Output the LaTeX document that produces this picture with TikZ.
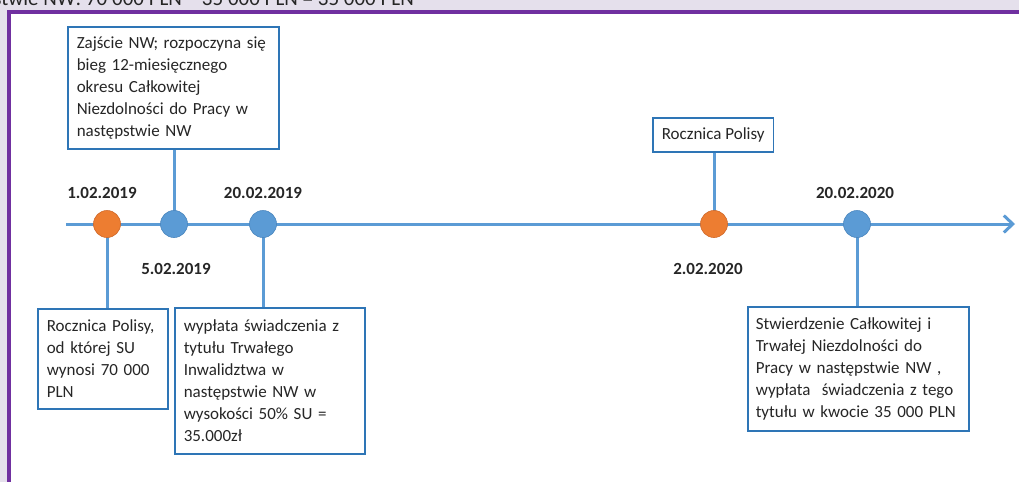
\documentclass[tikz,border=0pt]{standalone}
\usepackage{fontspec}
\setmainfont{Carlito}
\usetikzlibrary{arrows.meta}
\definecolor{bgl}{HTML}{E5E0EC}
\definecolor{framec}{HTML}{7030A0}
\definecolor{linec}{HTML}{5B9BD5}
\definecolor{boxc}{HTML}{2E75B6}
\definecolor{orangec}{HTML}{ED7D31}
\definecolor{orangeb}{HTML}{D0692A}
\definecolor{blueb}{HTML}{4A86BE}
\definecolor{txt}{HTML}{262626}
\tikzset{
  infobox/.style={draw=boxc, line width=1.5pt, fill=white, anchor=north west, align=left,
    inner xsep=9pt, inner ysep=4pt, text=txt, font=\fontsize{17}{22}\selectfont},
  conn/.style={draw=linec, line width=3pt},
  evo/.style={circle, minimum size=27pt, inner sep=0pt, fill=orangec, draw=orangeb, line width=0.6pt},
  evb/.style={circle, minimum size=27pt, inner sep=0pt, fill=linec, draw=blueb, line width=0.6pt},
  datelbl/.style={font=\bfseries\fontsize{17}{20}\selectfont, text=txt, anchor=base},
}
\begin{document}
\begin{tikzpicture}[x=1pt,y=-1pt]
\useasboundingbox (0,0) rectangle (1019,482);
\clip (0,0) rectangle (1019,482);
\fill[bgl] (0,0) rectangle (1019,482);
\fill[framec] (7,10) rectangle (1019,482);
\fill[white] (11,13.5) rectangle (1019,482);
\node[anchor=base east, inner sep=0pt, text=txt, font=\fontsize{21}{25}\selectfont] (title) at (414,5) {następstwie NW: 70 000 PLN – 35 000 PLN = 35 000 PLN};

% boxes
\node[infobox, text width=193pt, minimum height=122pt] (b1) at (67,26)
  {Zajście NW; rozpoczyna się\\bieg 12-miesięcznego\\okresu Całkowitej\\Niezdolności do Pracy w\\następstwie NW};
\node[infobox, text width=112pt, minimum height=100pt] (b2) at (37,308)
  {Rocznica Polisy,\\od której SU\\wynosi 70 000\\PLN};
\node[infobox, text width=172pt, minimum height=146pt] (b3) at (174,307)
  {wypłata świadczenia z\\tytułu Trwałego\\Inwalidztwa w\\następstwie NW w\\wysokości 50\% SU =\\35.000zł};
\node[infobox, inner xsep=9pt, minimum height=34pt] (b4) at (652,117)
  {Rocznica Polisy};
\node[infobox, inner xsep=8pt, text width=205pt, minimum height=124pt] (b5) at (747,306)
  {Stwierdzenie Całkowitej i\\Trwałej Niezdolności do\\Pracy w następstwie NW ,\\wypłata\ \ świadczenia z tego\\tytułu w kwocie 35 000 PLN};

% timeline
\coordinate (t0) at (66,224);
\coordinate (t1) at (1015,224);
\coordinate (p1) at (107,224);
\coordinate (p2) at (174,224);
\coordinate (p3) at (263,224);
\coordinate (p4) at (714,224);
\coordinate (p5) at (857,224);
\draw[conn, -{Straight Barb[length=9pt,width=17pt,line width=3pt]}] (t0) -- (t1);
\draw[conn] (p1) -- (b2.north -| p1);
\draw[conn] (b1.south -| p2) -- (p2);
\draw[conn] (p3) -- (b3.north -| p3);
\draw[conn] (b4.south -| p4) -- (p4);
\draw[conn] (p5) -- (b5.north -| p5);

\node[evo] (e1) at (p1) {};
\node[evb] (e2) at (p2) {};
\node[evb] (e3) at (p3) {};
\node[evo] (e4) at (p4) {};
\node[evb] (e5) at (p5) {};

% dates
\node[datelbl] (d1) at (102,198) {1.02.2019};
\node[datelbl] (d2) at (176,274) {5.02.2019};
\node[datelbl] (d3) at (263,198) {20.02.2019};
\node[datelbl] (d4) at (708,274) {2.02.2020};
\node[datelbl] (d5) at (855,198) {20.02.2020};
\end{tikzpicture}
\end{document}
